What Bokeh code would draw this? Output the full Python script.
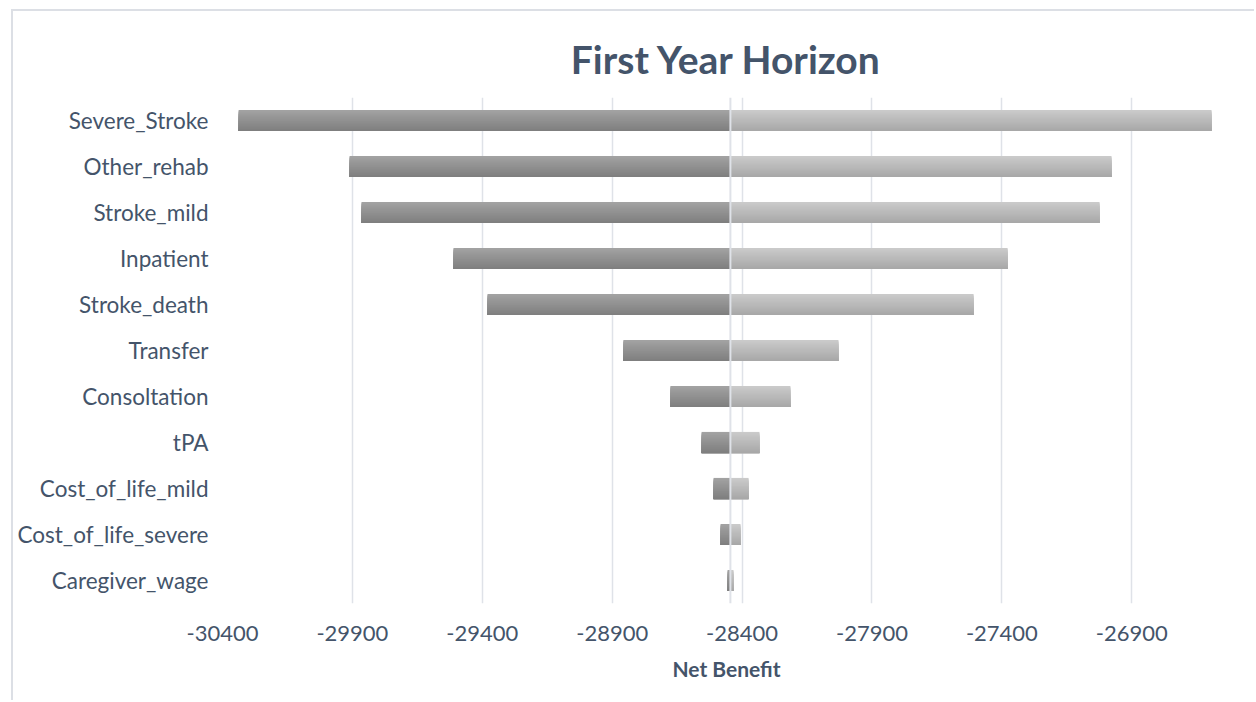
from bokeh.plotting import figure
from bokeh.models import FixedTicker, Range1d, Span, ColumnDataSource, PrintfTickFormatter
from bokeh.embed import file_html
from bokeh.resources import INLINE

# ---- data ----
categories = ["Severe_Stroke", "Other_rehab", "Stroke_mild", "Inpatient", "Stroke_death",
              "Transfer", "Consoltation", "tPA", "Cost_of_life_mild",
              "Cost_of_life_severe", "Caregiver_wage"]
low_values = [-30338, -29911, -29865, -29511, -29380,
              -28857, -28676, -28556, -28510, -28483, -28456]
high_values = [-26593, -26978, -27024, -27378, -27509,
               -28029, -28214, -28333, -28375, -28406, -28433]
base_value = -28445
x_ticks = [-30400, -29900, -29400, -28900, -28400, -27900, -27400, -26900]

TEXT = "#44546a"
GRID = "#dfe2e8"
FONT = "Lato"

p = figure(width=1243, height=691, output_backend="svg", toolbar_location=None,
           x_range=Range1d(-30400, -26520), y_range=Range1d(10.5, -0.5),
           min_border_left=209, min_border_right=26, min_border_top=86,
           min_border_bottom=99, title="First Year Horizon")
p.margin = (9, 0, 0, 11)
p.styles = {"border-left": "2px solid #dcdfe5", "border-top": "2px solid #dcdfe5"}
p.outline_line_color = None
p.background_fill_color = "white"
p.border_fill_color = "white"

p.title.align = "center"
p.title.text_font = FONT
p.title.text_font_style = "bold"
p.title.text_font_size = "39px"
p.title.text_color = TEXT
p.title.standoff = 31

# gradient bars: stacked, progressively shorter bars (no seams)
def gradient(c_top, c_bot, n):
    out = []
    for k in range(n):
        t = k / (n - 1)
        rgb = [round(a + (b - a) * t) for a, b in zip(c_top, c_bot)]
        out.append("#%02x%02x%02x" % tuple(rgb))
    return out

n = 16
h = 0.46
dark = gradient((0xa2, 0xa2, 0xa2), (0x7f, 0x7f, 0x7f), n)
light = gradient((0xca, 0xca, 0xca), (0xa8, 0xa8, 0xa8), n)

ys, hs, lefts, rights, cols = [], [], [], [], []
for i in range(len(categories)):
    bottom = i + h / 2
    for k in range(n):
        top = i - h / 2 + k * h / n
        yc = (top + bottom) / 2
        hh = bottom - top
        ys.append(yc); hs.append(hh); lefts.append(low_values[i]); rights.append(base_value); cols.append(dark[k])
        ys.append(yc); hs.append(hh); lefts.append(base_value); rights.append(high_values[i]); cols.append(light[k])

src = ColumnDataSource(dict(y=ys, h=hs, left=lefts, right=rights, color=cols))
p.hbar(y="y", left="left", right="right", height="h", fill_color="color",
       line_color=None, source=src)

p.add_layout(Span(location=base_value, dimension="height", line_color=GRID, line_width=2))

# grid
p.xgrid.grid_line_color = GRID
p.xgrid.grid_line_width = 1.5
p.ygrid.grid_line_color = None
p.xgrid.ticker = FixedTicker(ticks=x_ticks)

# x axis
xa = p.xaxis[0]
xa.ticker = FixedTicker(ticks=x_ticks)
xa.formatter = PrintfTickFormatter(format="%d")
xa.axis_line_color = None
xa.major_tick_line_color = None
xa.minor_tick_line_color = None
xa.major_tick_out = 0
xa.minor_tick_out = 0
xa.major_label_text_font = FONT
xa.major_label_text_font_size = "22px"
xa.major_label_text_color = TEXT
xa.major_label_standoff = 22
xa.axis_label = "Net Benefit"
xa.axis_label_text_font = FONT
xa.axis_label_text_font_style = "bold"
xa.axis_label_text_font_size = "21px"
xa.axis_label_text_color = TEXT
xa.axis_label_standoff = 12

# y axis
ya = p.yaxis[0]
ya.ticker = FixedTicker(ticks=list(range(len(categories))))
ya.major_label_overrides = {i: c for i, c in enumerate(categories)}
ya.axis_line_color = None
ya.major_tick_line_color = None
ya.minor_tick_line_color = None
ya.major_tick_out = 0
ya.minor_tick_out = 0
ya.major_label_text_font = FONT
ya.major_label_text_font_size = "22.5px"
ya.major_label_text_color = TEXT
ya.major_label_standoff = 14

open("out.html", "w").write(file_html(p, INLINE))
